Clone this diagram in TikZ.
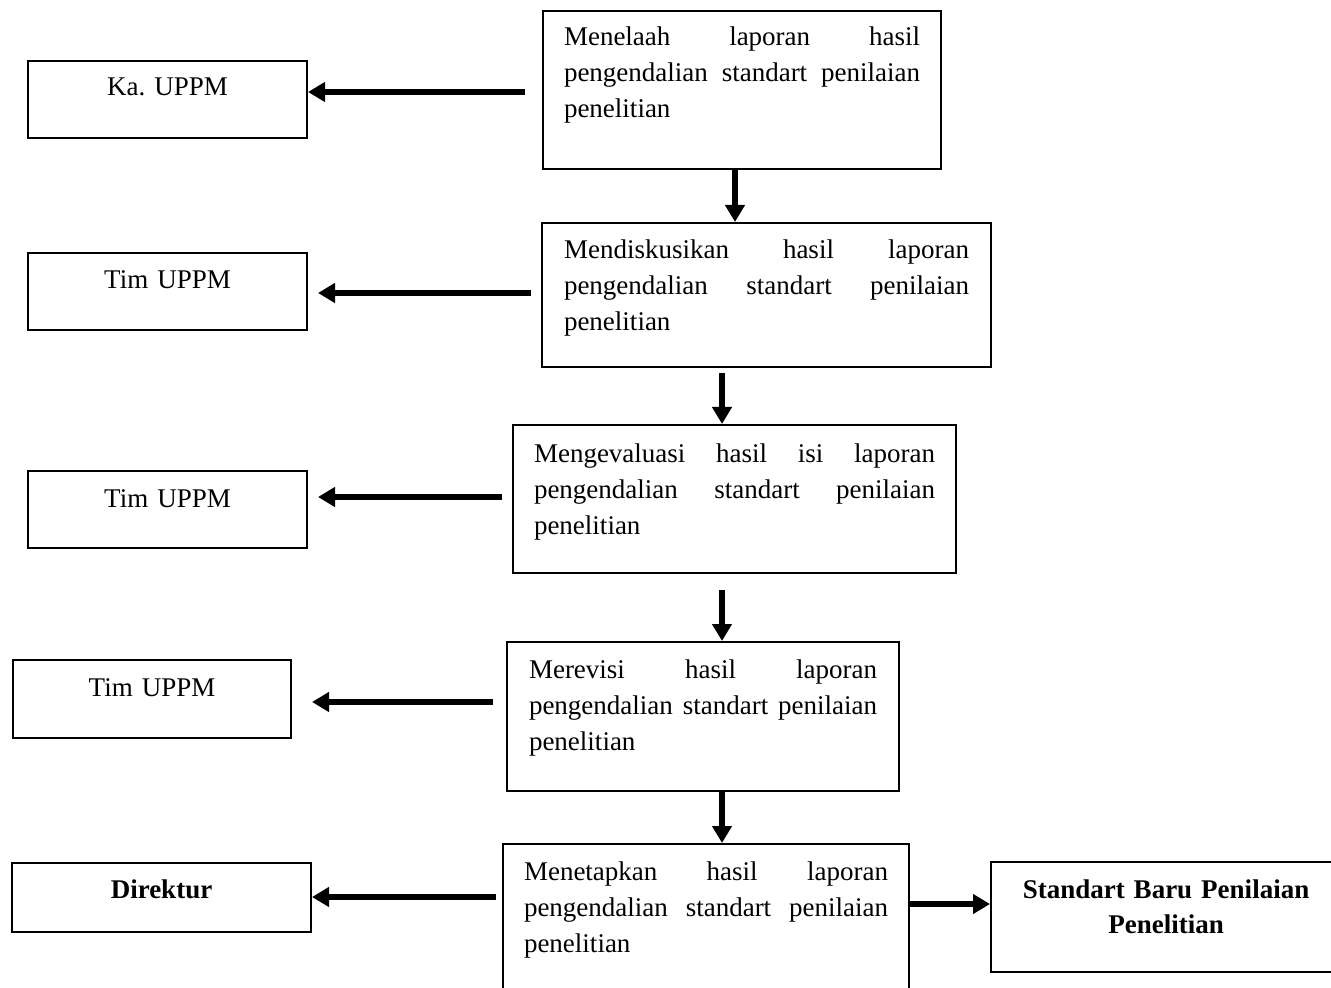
\documentclass[tikz,border=0pt]{standalone}
\usepackage{fontspec}
\setmainfont{Liberation Serif}
\usetikzlibrary{arrows.meta}

\begin{document}
\begin{tikzpicture}[x=0.5pt,y=-0.5pt]
  % Styles
    \tikzstyle{stepbox}=[draw,line width=1pt,anchor=north west,inner ysep=0pt,
      font=\fontsize{13.5pt}{18pt}\selectfont,align=left]
    \tikzstyle{actor}=[stepbox,align=center,inner xsep=0pt]
    \tikzstyle{flow}=[line width=3.2pt,-{Triangle[length=8.5pt,width=9.5pt]}]

  % Canvas (page is cut at the edges, as in the scan)
    \path[use as bounding box,clip] (0,0) rectangle (1331,988);

  % Process boxes
    \node[stepbox,inner xsep=10.5pt,text width=178pt,text height=17.5pt,text depth=61.5pt]
      (telaah) at (542,10)
      {Menelaah\hfill laporan\hfill hasil\\pengendalian\hfill standart\hfill penilaian\\penelitian};
    \node[stepbox,inner xsep=11pt,text width=202.5pt,text height=18pt,text depth=54pt]
      (diskusi) at (541,222)
      {Mendiskusikan\hfill hasil\hfill laporan\\pengendalian\hfill standart\hfill penilaian\\penelitian};
    \node[stepbox,inner xsep=10.5pt,text width=200.5pt,text height=18.5pt,text depth=55.5pt]
      (evaluasi) at (512,424)
      {Mengevaluasi\hfill hasil\hfill isi\hfill laporan\\pengendalian\hfill standart\hfill penilaian\\penelitian};
    \node[stepbox,inner xsep=11pt,text width=174pt,text height=18pt,text depth=56.5pt]
      (revisi) at (506,641)
      {Merevisi\hfill hasil\hfill laporan\\pengendalian\hfill standart\hfill penilaian\\penelitian};
    \node[stepbox,inner xsep=10.5pt,text width=182pt,text height=18pt,text depth=60.5pt]
      (tetapkan) at (502,843)
      {Menetapkan\hfill hasil\hfill laporan\\pengendalian\hfill standart\hfill penilaian\\penelitian};

  % Who does it
    \node[actor,text width=139.5pt,text height=17.5pt,text depth=21pt] (kaup) at (27,60) {Ka.\ UPPM};
    \node[actor,text width=139.5pt,text height=18pt,text depth=20.5pt] (tim1) at (27,252) {Tim UPPM};
    \node[actor,text width=139.5pt,text height=18pt,text depth=20.5pt] (tim2) at (27,470) {Tim UPPM};
    \node[actor,text width=139pt,text height=18pt,text depth=21pt] (tim3) at (12,659) {Tim UPPM};
    \node[actor,text width=149.5pt,text height=17.5pt,text depth=17pt] (direktur) at (11,862)
      {\bfseries Direktur};
    \node[actor,text width=175pt,text height=18pt,text depth=37pt,
      font=\fontsize{13.5pt}{17.5pt}\selectfont\bfseries] (baru) at (990,861)
      {Standart Baru Penilaian\\Penelitian};

  % Down the middle
    \coordinate (spine) at (722,0);
    \draw[flow] (telaah.south -| 735,0) -- (diskusi.north -| 735,0);
    \draw[flow,shorten <=2.5pt] (diskusi.south -| spine) -- (evaluasi.north -| spine);
    \draw[flow,shorten <=8pt] (evaluasi.south -| spine) -- (revisi.north -| spine);
    \draw[flow] (revisi.south -| spine) -- (tetapkan.north -| spine);

  % Out to the left
    \draw[flow,shorten <=8.5pt] (telaah.west |- 0,92) -- (kaup.east |- 0,92);
    \draw[flow,shorten <=5pt,shorten >=5pt] (diskusi.west |- 0,293) -- (tim1.east |- 0,293);
    \draw[flow,shorten <=5pt,shorten >=5pt] (evaluasi.west |- 0,497) -- (tim2.east |- 0,497);
    \draw[flow,shorten <=6.5pt,shorten >=10pt] (revisi.west |- 0,702) -- (tim3.east |- 0,702);
    \draw[flow,shorten <=3pt] (tetapkan.west |- 0,897) -- (direktur.east |- 0,897);

  % Result
    \draw[flow] (tetapkan.east |- 0,904) -- (baru.west |- 0,904);
\end{tikzpicture}
\end{document}
